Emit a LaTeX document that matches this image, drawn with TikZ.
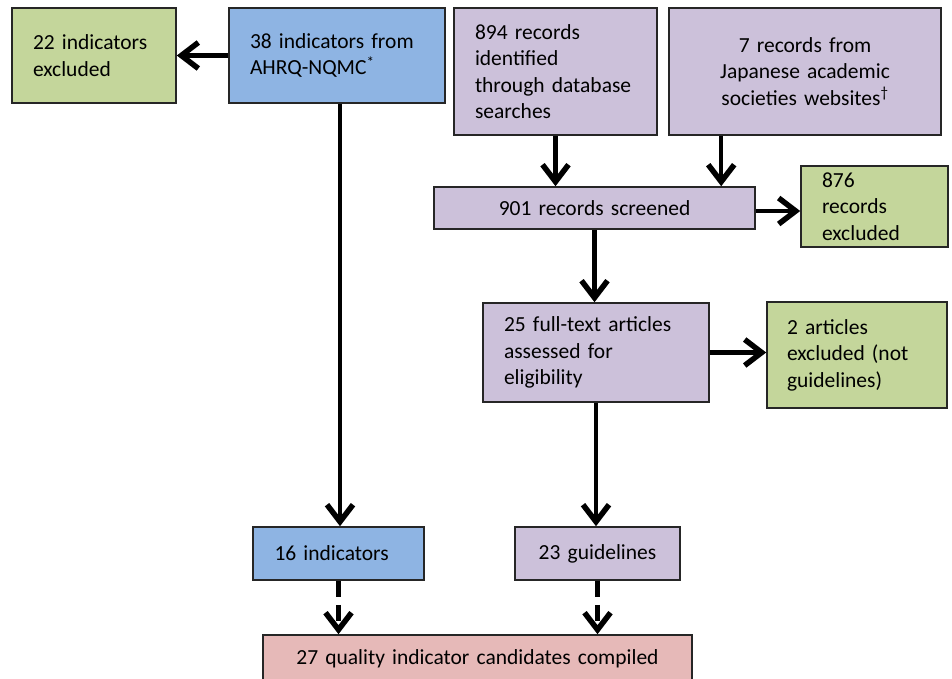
\documentclass[tikz,border=0pt]{standalone}
\usepackage{fontspec}
\setmainfont{Carlito}
\usetikzlibrary{arrows.meta}
\definecolor{gfill}{RGB}{196,214,155}
\definecolor{bfill}{RGB}{142,180,227}
\definecolor{pfill}{RGB}{204,193,218}
\definecolor{rfill}{RGB}{230,185,184}
\begin{document}
\begin{tikzpicture}[x=1pt,y=-1pt,
  box/.style={draw=black!85, line width=1.6pt, inner sep=0pt, font=\fontsize{21.5}{26.5}\selectfont},
  arr/.style={line width=4.5pt, -{Straight Barb[length=17pt,width=26pt,line width=5.5pt]}},
  darr/.style={arr, dash pattern=on 16pt off 8pt}]
\useasboundingbox (0,0) rectangle (952,678);
\node[box, fill=gfill, minimum width=164pt, minimum height=95pt, text width=122pt, align=left] (ex1) at (94,55.5) {22 indicators\\excluded};
\node[box, fill=bfill, minimum width=216pt, minimum height=95pt, text width=174pt, align=left] (ahrq) at (337,55.5) {38 indicators from\\AHRQ-NQMC\textsuperscript{*}};
\node[box, fill=pfill, minimum width=203pt, minimum height=127pt, text width=161pt, align=left] (db) at (555.5,71.5) {894 records\\identified\\through database\\searches};
\node[box, fill=pfill, minimum width=272pt, minimum height=127pt, text width=240pt, align=center] (soc) at (805,71.5) {7 records from\\Japanese academic\\societies websites\textsuperscript{†}};
\node[box, fill=pfill, minimum width=321pt, minimum height=42pt, text width=280pt, align=center] (scr) at (594.5,208) {901 records screened};
\node[box, fill=gfill, minimum width=147pt, minimum height=81pt, text width=105pt, align=left] (ex2) at (874.5,206.5) {876\\records\\excluded};
\node[box, fill=pfill, minimum width=226pt, minimum height=99pt, text width=184pt, align=left] (ft) at (596,352.5) {25 full-text articles\\assessed for\\eligibility};
\node[box, fill=gfill, minimum width=180pt, minimum height=106pt, text width=140pt, align=left] (ex3) at (857,355) {2 articles\\excluded (not\\guidelines)};
\node[box, fill=bfill, minimum width=171pt, minimum height=53pt, text width=128pt, align=left] (ind) at (338.5,553.5) {16 indicators};
\node[box, fill=pfill, minimum width=165pt, minimum height=53pt, text width=140pt, align=center] (gl) at (597.5,553.5) {23 guidelines};
\node[box, fill=rfill, minimum width=429pt, minimum height=47pt, text width=400pt, align=center] (fin) at (477.5,658.5) {27 quality indicator candidates compiled};
\draw[arr] (ahrq.west) -- (ex1.east);
\draw[arr] ([xshift=3pt]ahrq.south) -- ([xshift=3pt]ahrq.south |- ind.north);
\draw[arr] (db.south) -- (db.south |- scr.north);
\draw[arr] ([xshift=53pt]soc.south west) -- ([xshift=53pt]soc.south west |- scr.north);
\draw[arr] ([yshift=-3pt]scr.east) -- ([yshift=-3pt]scr.east -| ex2.west);
\draw[arr] (scr.south) -- (scr.south |- ft.north);
\draw[arr] (ft.east) -- (ft.east -| ex3.west);
\draw[arr] (ft.south) -- (ft.south |- gl.north);
\draw[darr] (ind.south) -- (ind.south |- fin.north);
\draw[darr] (gl.south) -- (gl.south |- fin.north);
\end{tikzpicture}
\end{document}
